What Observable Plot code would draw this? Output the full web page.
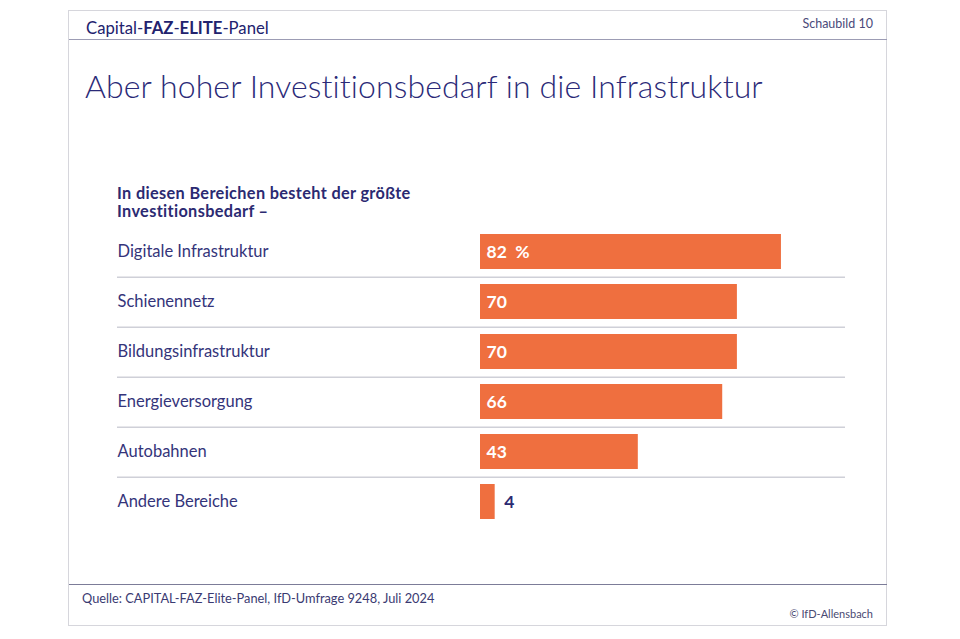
<!DOCTYPE html>
<html>
<head>
<meta charset="utf-8">
<script src="https://cdn.jsdelivr.net/npm/d3@7"></script>
<script src="https://cdn.jsdelivr.net/npm/@observablehq/plot@0.6"></script>
<style>
  html, body { margin: 0; padding: 0; background: #fff; }
  body { width: 960px; height: 639px; position: relative; overflow: hidden; font-family: Lato, "Open Sans", sans-serif; color: #2b2a72; }
  .frame { position: absolute; left: 68px; top: 10px; width: 819px; height: 616px; border: 1px solid #d6d6dc; box-sizing: border-box; }
  .abs { position: absolute; white-space: nowrap; }
  #brand { left: 86px; top: 18px; font-size: 16.7px; color: #22226e; }
  #brand b { font-weight: 700; }
  #schaubild { right: 87px; top: 16px; font-size: 12.5px; color: #4a4a7a; }
  #hline { left: 69px; top: 39px; width: 818px; height: 1px; background: #9c9cb4; }
  #title { left: 85px; top: 66px; font-size: 32px; font-weight: 300; color: #2b2a78; letter-spacing: 0.1px; }
  #subtitle { left: 117px; top: 184px; font-size: 16.3px; font-weight: 700; line-height: 18px; letter-spacing: 0.35px; color: #2b2a72; }
  #chart { left: 0; top: 225px; line-height: 0; }
  #chart svg { display: block; }
  #fline { left: 69px; top: 584px; width: 818px; height: 1px; background: #7c7c98; }
  #source { left: 82px; top: 590px; font-size: 12.8px; color: #3a3a72; }
  #copy { right: 87px; top: 607px; font-size: 11px; color: #4a4a72; }
</style>
</head>
<body>
<div class="frame"></div>
<div class="abs" id="brand">Capital-<b>FAZ</b>-<b>ELITE</b>-Panel</div>
<div class="abs" id="schaubild">Schaubild 10</div>
<div class="abs" id="hline"></div>
<div class="abs" id="title">Aber hoher Investitionsbedarf in die Infrastruktur</div>
<div class="abs" id="subtitle">In diesen Bereichen besteht der größte<br>Investitionsbedarf –</div>
<div class="abs" id="chart"></div>
<div class="abs" id="fline"></div>
<div class="abs" id="source">Quelle: CAPITAL-FAZ-Elite-Panel, IfD-Umfrage 9248, Juli 2024</div>
<div class="abs" id="copy">© IfD-Allensbach</div>
<script>
const categories = ["Digitale Infrastruktur", "Schienennetz", "Bildungsinfrastruktur", "Energieversorgung", "Autobahnen", "Andere Bereiche"];
const values = [82, 70, 70, 66, 43, 4];
const valueLabels = ["82  %", "70", "70", "66", "43", "4"];

const data = categories.map((c, i) => ({category: c, value: values[i], label: valueLabels[i]}));
const inside = data.filter(d => d.value >= 10);
const outside = data.filter(d => d.value < 10);
const separators = categories.slice(0, categories.length - 1);

const H = 302;
const step = H / categories.length;

const chart = Plot.plot({
  width: 960,
  height: H,
  marginLeft: 117,
  marginRight: 115,
  marginTop: 0,
  marginBottom: 0,
  style: {fontFamily: "Lato, 'Open Sans', sans-serif", background: "transparent", overflow: "visible"},
  x: {domain: [0, 100], range: [480, 847], axis: null},
  y: {domain: categories, paddingInner: 0.3, paddingOuter: 0.15, axis: null},
  marks: [
    Plot.ruleY(separators, {y: d => d, dy: step / 2, stroke: "#cfd0d8", strokeWidth: 1.5}),
    Plot.barX(data, {y: "category", x: "value", fill: "#ef6f3f"}),
    Plot.text(data, {y: "category", text: "category", frameAnchor: "left", textAnchor: "start", fontSize: 16.5, fill: "#34347a"}),
    Plot.text(inside, {y: "category", x: 0, text: "label", textAnchor: "start", dx: 6, fontSize: 17.5, fontWeight: 700, fill: "#ffffff"}),
    Plot.text(outside, {y: "category", x: "value", text: "label", textAnchor: "start", dx: 9, fontSize: 17.5, fontWeight: 700, fill: "#2b2a72"})
  ]
});
document.getElementById("chart").appendChild(chart);
</script>
</body>
</html>
